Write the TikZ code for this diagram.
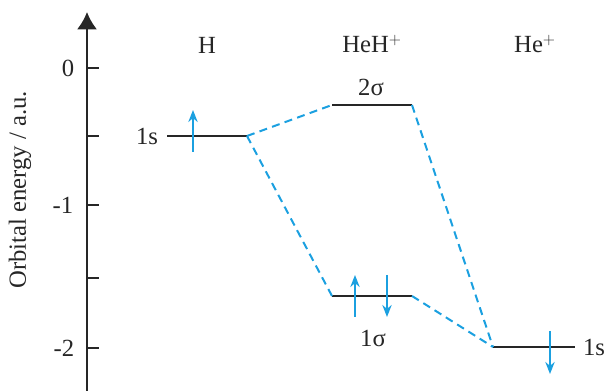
\documentclass[tikz,border=0pt]{standalone}
\usepackage{fontspec}
\setmainfont{Liberation Serif}
\usetikzlibrary{arrows.meta}
\definecolor{orbcyan}{RGB}{27,160,224}

\begin{document}
\begin{tikzpicture}[x=0.75pt,y=-0.75pt]
\tikzset{level/.style = {draw=black!85, line width=1.5pt}}
\tikzset{corr/.style = {draw=orbcyan, line width=1.5pt, dash pattern=on 6pt off 4pt}}
\tikzset{spin/.style = {draw=orbcyan, line width=1.4pt, -{Stealth[length=9pt,width=7pt]}}}
\tikzset{lbl/.style = {font=\fontsize{18.5}{21}\selectfont, text=black!85, inner sep=0pt}}
\useasboundingbox (0,0) rectangle (608,391);

% axis
\draw[line width=1.5pt, black!85, -{Latex[length=13pt,width=15pt]}] (87,391) -- (87,12);
\foreach \yy in {68,136,205,278,348}
    \draw[line width=1.5pt, black!85] (87,\yy) -- (99,\yy);
\node[lbl] (t0) at (68,68) {0};
\node[lbl] (t1) at (63,205) {-1};
\node[lbl] (t2) at (64,348) {-2};
\node[lbl, rotate=90] (ylab) at (20,190) {Orbital energy / a.u.};

% headers
\node[lbl] (hH) at (207,45) {H};
\node[lbl] (hHeH) at (372,44) {HeH$^+$};
\node[lbl] (hHe) at (535,44) {He$^+$};

% levels
\coordinate (Hl) at (167,136);   \coordinate (Hr) at (247,136);
\coordinate (al) at (332,105);   \coordinate (ar) at (412,105);
\coordinate (bl) at (332,296);   \coordinate (br) at (412,296);
\coordinate (Hel) at (493,347);  \coordinate (Her) at (575,347);
\draw[level] (Hl) -- (Hr);
\draw[level] (al) -- (ar);
\draw[level] (bl) -- (br);
\draw[level] (Hel) -- (Her);

\node[lbl] (sH) at (147,136) {1s};
\node[lbl] (s2) at (371,87) {2σ};
\node[lbl] (s1) at (373,338) {1σ};
\node[lbl] (sHe) at (594,347) {1s};

% correlation lines
\draw[corr] (Hr) -- (al);
\draw[corr] (Hr) -- (bl);
\draw[corr] (ar) -- (Hel);
\draw[corr] (br) -- (Hel);

% electrons
\coordinate (e1a) at (193,152);  \coordinate (e1b) at (193,110);
\coordinate (e2a) at (355,317);  \coordinate (e2b) at (355,275);
\coordinate (e3a) at (387,275);  \coordinate (e3b) at (387,317);
\coordinate (e4a) at (550,331);  \coordinate (e4b) at (550,374);
\draw[spin] (e1a) -- (e1b);
\draw[spin] (e2a) -- (e2b);
\draw[spin] (e3a) -- (e3b);
\draw[spin] (e4a) -- (e4b);
\end{tikzpicture}
\end{document}
